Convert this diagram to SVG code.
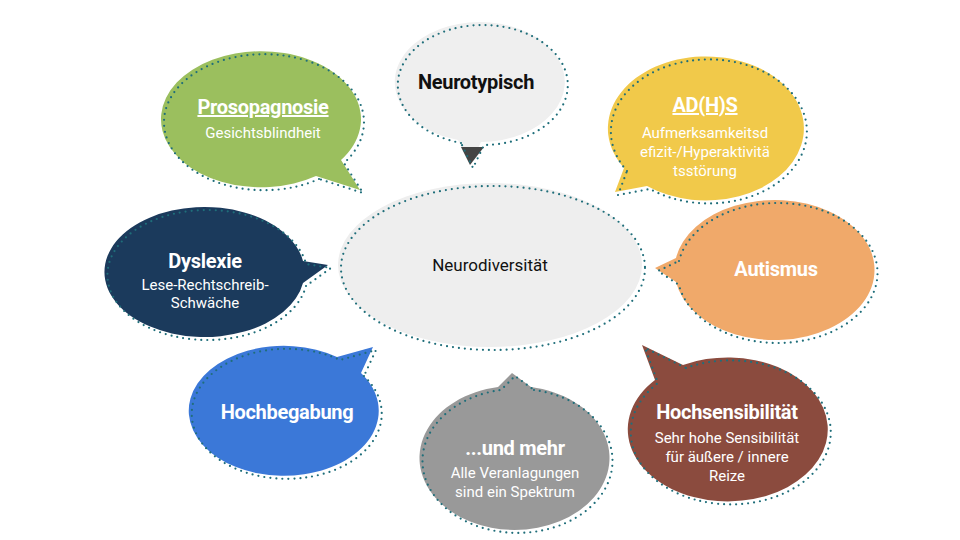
<svg xmlns="http://www.w3.org/2000/svg" xmlns:xlink="http://www.w3.org/1999/xlink" width="960" height="540" viewBox="0 0 960 540">
<style>
.dot{fill:none;stroke:#1f6e7a;stroke-width:2.2;stroke-dasharray:0 6;stroke-linecap:round}
.t{font-family:Roboto,"Liberation Sans",sans-serif;font-weight:bold;font-size:20px;fill:#fff;text-anchor:middle;letter-spacing:-0.3px}
.s{font-family:Roboto,"Liberation Sans",sans-serif;font-size:15px;fill:#fff;text-anchor:middle}
</style>
<defs>
<ellipse id="pc" cx="490" cy="265" rx="152" ry="82"/>
<path id="pn" d="M458,140 A85 60 0 1 1 481,142 L470,165 Z"/>
<path id="pp" d="M316,176 A100 68 0 1 1 341,160 L360,190 Z"/>
<path id="pa" d="M624,168 A98 72 0 1 1 647,186 L615,192 Z"/>
<path id="pd" d="M303,283 A100 65 0 1 1 303,261 L328,265 Z"/>
<path id="pu" d="M676,258 A100 70 0 1 1 676,282 L655,268 Z"/>
<path id="ph" d="M361,373 A95 65 0 1 1 337,357 L373,347 Z"/>
<path id="pm" d="M531,387 A95 72 0 1 1 498,387 L512,373 Z"/>
<path id="ps" d="M683,365 A100 72 0 1 1 655,380 L642,345 Z"/>
</defs>
<rect width="960" height="540" fill="#fff"/>
<g id="center"><use href="#pc" fill="#eeeeee"/><use href="#pc" class="dot" transform="translate(3,3)"/>
<text x="490" y="271" font-family="Roboto,'Liberation Sans',sans-serif" font-size="17" fill="#111" text-anchor="middle">Neurodiversität</text></g>
<g id="neurotypisch"><use href="#pn" fill="#efefef"/><path d="M461,147 L470,165 L484,147Z" fill="#444"/><use href="#pn" class="dot" transform="translate(3,3)"/>
<text x="476" y="89" class="t" style="fill:#111">Neurotypisch</text></g>
<g id="prosopagnosie"><use href="#pp" fill="#9bbf5e"/><use href="#pp" class="dot" transform="translate(3,3)"/>
<text x="263" y="114" class="t" text-decoration="underline">Prosopagnosie</text><text x="263" y="138" class="s">Gesichtsblindheit</text></g>
<g id="adhs"><use href="#pa" fill="#f1c94a"/><use href="#pa" class="dot" transform="translate(3,3)"/>
<text x="705" y="112" class="t" text-decoration="underline">AD(H)S</text><text x="705" y="138" class="s">Aufmerksamkeitsd</text><text x="705" y="157" class="s">efizit-/Hyperaktivitä</text><text x="705" y="176" class="s">tsstörung</text></g>
<g id="dyslexie"><use href="#pd" fill="#1b3a5c"/><use href="#pd" class="dot" transform="translate(3,3)"/>
<text x="205" y="268" class="t">Dyslexie</text><text x="205" y="290" class="s">Lese-Rechtschreib-</text><text x="205" y="308" class="s">Schwäche</text></g>
<g id="autismus"><use href="#pu" fill="#f0a96a"/><use href="#pu" class="dot" transform="translate(3,3)"/>
<text x="776" y="276" class="t">Autismus</text></g>
<g id="hochbegabung"><use href="#ph" fill="#3b78d8"/><use href="#ph" class="dot" transform="translate(3,3)"/>
<text x="287" y="419" class="t">Hochbegabung</text></g>
<g id="mehr"><use href="#pm" fill="#999999"/><use href="#pm" class="dot" transform="translate(3,3)"/>
<text x="515" y="455" class="t">...und mehr</text><text x="515" y="478" class="s">Alle Veranlagungen</text><text x="515" y="497" class="s">sind ein Spektrum</text></g>
<g id="hochsensibilitaet"><use href="#ps" fill="#8b4b3e"/><use href="#ps" class="dot" transform="translate(3,3)"/>
<text x="727" y="419" class="t">Hochsensibilität</text><text x="727" y="443" class="s">Sehr hohe Sensibilität</text><text x="727" y="462" class="s">für äußere / innere</text><text x="727" y="481" class="s">Reize</text></g>
<g id="connectors"/>
</svg>
